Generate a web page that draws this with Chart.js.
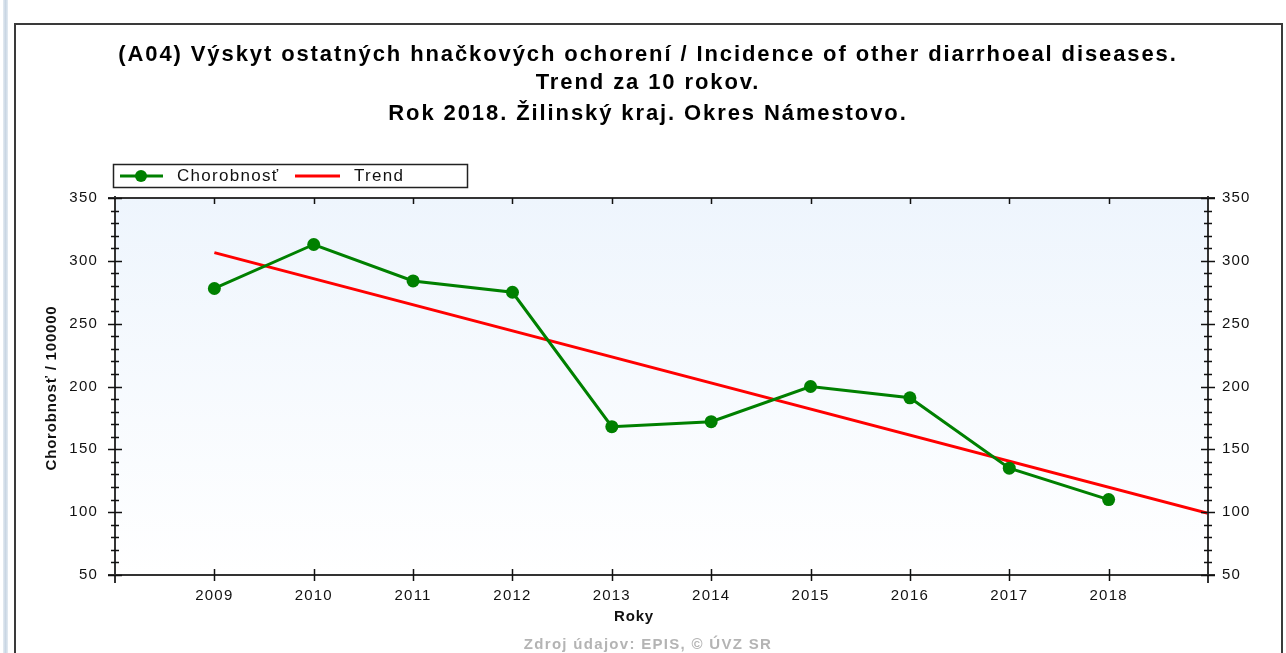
<!DOCTYPE html>
<html>
<head>
<meta charset="utf-8">
<script src="https://cdn.jsdelivr.net/npm/chart.js@4.4.1/dist/chart.umd.min.js"></script>
<style>
  html, body { margin: 0; padding: 0; background: #fff; }
  #wrap { position: relative; width: 1286px; height: 653px; }
</style>
</head>
<body>
<div id="wrap"><canvas id="chart" width="1286" height="653"></canvas></div>
<script>
// ---------------- DATA ----------------
const years = [2009, 2010, 2011, 2012, 2013, 2014, 2015, 2016, 2017, 2018];
const incidence = [278, 313, 284, 275, 168, 172, 200, 191, 135, 110];
const trendYears = [2009, 2019];
const trendValues = [306.5, 99];
const yTicks = [50, 100, 150, 200, 250, 300, 350];

const titleLines = [
    "(A04) Výskyt ostatných hnačkových ochorení / Incidence of other diarrhoeal diseases.",
    "Trend za 10 rokov.",
    "Rok 2018. Žilinský kraj. Okres Námestovo."
];

const FONT = "'Liberation Sans', Arial, sans-serif";

// ---------------- DECOR PLUGIN ----------------
const decor = {
    id: "decor",
    beforeDraw(chart) {
        const ctx = chart.ctx;
        const a = chart.chartArea;
        ctx.save();
        // page strip on the left
        const g0 = ctx.createLinearGradient(3, 0, 8, 0);
        g0.addColorStop(0, "#e4ebf2");
        g0.addColorStop(0.5, "#c9d6e3");
        g0.addColorStop(1, "#e4ebf2");
        ctx.fillStyle = g0;
        ctx.fillRect(3, 0, 5, 653);
        // frame
        ctx.strokeStyle = "#3a3a3a";
        ctx.lineWidth = 2;
        ctx.beginPath();
        ctx.moveTo(15, 660);
        ctx.lineTo(15, 24);
        ctx.lineTo(1282, 24);
        ctx.lineTo(1282, 660);
        ctx.stroke();
        // plot background
        const g = ctx.createLinearGradient(0, a.top, 0, a.bottom);
        g.addColorStop(0, "#eef5fd");
        g.addColorStop(1, "#ffffff");
        ctx.fillStyle = g;
        ctx.fillRect(a.left, a.top, a.right - a.left, a.bottom - a.top);
        ctx.restore();
        // wider glyph spacing for the tick labels
        ctx.letterSpacing = "1.2px";
    },
    afterDraw(chart) {
        const ctx = chart.ctx;
        const a = chart.chartArea;
        const ys = chart.scales.y;
        const xs = chart.scales.x;
        ctx.save();
        // axes box
        ctx.strokeStyle = "#333";
        ctx.lineWidth = 2;
        ctx.beginPath();
        ctx.moveTo(a.left - 7, a.top);
        ctx.lineTo(a.right + 7, a.top);
        ctx.moveTo(a.left - 7, a.bottom);
        ctx.lineTo(a.right + 7, a.bottom);
        ctx.moveTo(a.left, a.top - 2);
        ctx.lineTo(a.left, a.bottom + 8);
        ctx.moveTo(a.right, a.top - 2);
        ctx.lineTo(a.right, a.bottom + 8);
        ctx.stroke();
        // y ticks (major + minor)
        ctx.strokeStyle = "#111";
        ctx.lineWidth = 1.5;
        ctx.beginPath();
        for (let v = 50; v <= 350; v += 10) {
            const py = Math.round(ys.getPixelForValue(v)) + 0.5;
            const len = (v % 50 === 0) ? 7 : 4;
            [a.left, a.right].forEach(px => {
                ctx.moveTo(px - len, py);
                ctx.lineTo(px + len, py);
            });
        }
        // x ticks
        years.forEach(yr => {
            const px = Math.round(xs.getPixelForValue(yr)) + 0.5;
            ctx.moveTo(px, a.bottom - 6);
            ctx.lineTo(px, a.bottom + 6);
            ctx.moveTo(px, a.top);
            ctx.lineTo(px, a.top + 6);
        });
        ctx.stroke();

        // title
        ctx.fillStyle = "#000";
        ctx.textAlign = "center";
        ctx.textBaseline = "middle";
        ctx.font = "bold 22px " + FONT;
        ctx.letterSpacing = "1.9px";
        const ty = [55, 83, 114];
        titleLines.forEach((t, i) => ctx.fillText(t, 648, ty[i]));

        // legend
        ctx.fillStyle = "#fff";
        ctx.fillRect(113, 164, 354, 23);
        ctx.strokeStyle = "#222";
        ctx.lineWidth = 1.5;
        ctx.strokeRect(113.5, 164.5, 354, 23);
        const ly = 176;
        ctx.strokeStyle = "#008000";
        ctx.lineWidth = 3;
        ctx.beginPath();
        ctx.moveTo(120, ly);
        ctx.lineTo(163, ly);
        ctx.stroke();
        ctx.fillStyle = "#008000";
        ctx.beginPath();
        ctx.arc(141, ly, 6, 0, Math.PI * 2);
        ctx.fill();
        ctx.strokeStyle = "#ff0000";
        ctx.beginPath();
        ctx.moveTo(295, ly);
        ctx.lineTo(340, ly);
        ctx.stroke();
        ctx.fillStyle = "#111";
        ctx.font = "17px " + FONT;
        ctx.letterSpacing = "1.3px";
        ctx.textAlign = "left";
        ctx.fillText("Chorobnosť", 177, ly);
        ctx.fillText("Trend", 354, ly);

        // axis titles
        ctx.font = "bold 15px " + FONT;
        ctx.letterSpacing = "0.8px";
        ctx.textAlign = "center";
        ctx.fillText("Roky", 634, 617);
        ctx.save();
        ctx.translate(52, 388);
        ctx.rotate(-Math.PI / 2);
        ctx.fillText("Chorobnosť / 100000", 0, 0);
        ctx.restore();

        // source
        ctx.fillStyle = "#b4b4b4";
        ctx.font = "bold 15px " + FONT;
        ctx.letterSpacing = "1.3px";
        ctx.fillText("Zdroj údajov: EPIS, © ÚVZ SR", 648, 645);
        ctx.restore();
    }
};

// ---------------- CHART ----------------
const tickFont = { family: FONT, size: 15 };

new Chart(document.getElementById("chart"), {
    type: "line",
    data: {
        datasets: [
            {
                label: "Trend",
                data: trendYears.map((x, i) => ({ x: x, y: trendValues[i] })),
                borderColor: "#ff0000",
                borderWidth: 3,
                pointRadius: 0,
                order: 2
            },
            {
                label: "Chorobnosť",
                data: years.map((x, i) => ({ x: x, y: incidence[i] })),
                borderColor: "#008000",
                backgroundColor: "#008000",
                borderWidth: 3,
                pointRadius: 6.5,
                pointBorderWidth: 0,
                order: 1
            }
        ]
    },
    options: {
        responsive: false,
        animation: false,
        events: [],
        layout: { padding: { left: 0, right: 0, top: 198, bottom: 0 } },
        plugins: {
            legend: { display: false },
            title: { display: false },
            tooltip: { enabled: false }
        },
        scales: {
            x: {
                type: "linear",
                min: 2008,
                max: 2019,
                grid: { display: false, drawTicks: false },
                border: { display: false },
                afterBuildTicks: s => { s.ticks = years.map(v => ({ value: v })); },
                afterFit: s => { s.height = 78; },
                ticks: {
                    color: "#111",
                    font: tickFont,
                    padding: 12,
                    maxRotation: 0,
                    autoSkip: false,
                    callback: v => String(v)
                }
            },
            y: {
                position: "left",
                min: 50,
                max: 350,
                grid: { display: false, drawTicks: false },
                border: { display: false },
                afterBuildTicks: s => { s.ticks = yTicks.map(v => ({ value: v })); },
                afterFit: s => { s.width = 115; },
                ticks: { color: "#111", font: tickFont, padding: 17 }
            },
            y2: {
                position: "right",
                min: 50,
                max: 350,
                grid: { display: false, drawTicks: false },
                border: { display: false },
                afterBuildTicks: s => { s.ticks = yTicks.map(v => ({ value: v })); },
                afterFit: s => { s.width = 78; },
                ticks: { color: "#111", font: tickFont, padding: 14 }
            }
        }
    },
    plugins: [decor]
});
</script>
</body>
</html>
